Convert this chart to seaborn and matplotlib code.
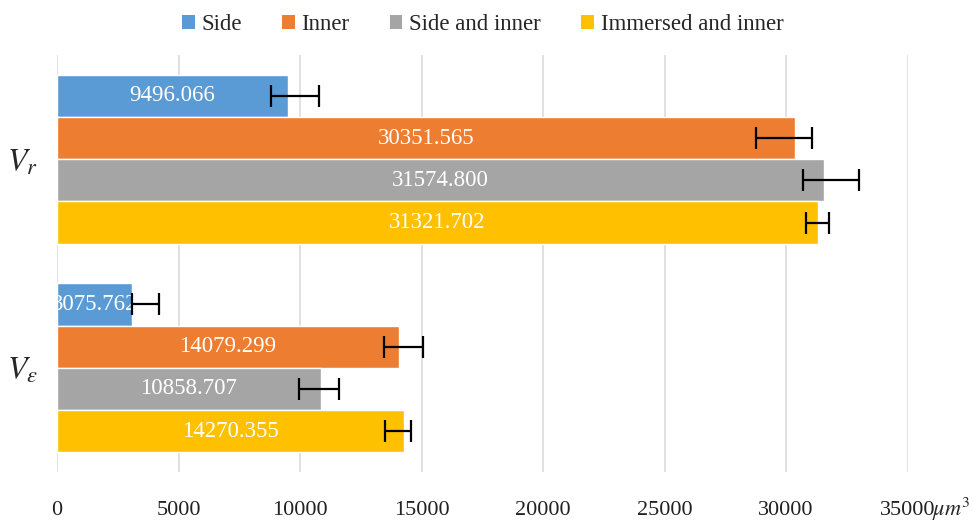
import numpy as np
import pandas as pd
import matplotlib
matplotlib.use("Agg")
import matplotlib.pyplot as plt
from matplotlib.patches import Patch
from matplotlib.container import BarContainer
import seaborn as sns

# Volumes (µm³) for the two measures and four treatment series
groups = ["$V_r$", r"$V_\varepsilon$"]
series = ["Side", "Inner", "Side and inner", "Immersed and inner"]
v_r = [9496.066, 30351.565, 31574.800, 31321.702]
v_eps = [3075.762, 14079.299, 10858.707, 14270.355]

# Error-bar extents (lower and upper bounds) for each series
v_r_low = [8807, 28778, 30712, 30806]
v_r_high = [10765, 31083, 32999, 31768]
v_eps_low = [3222, 13457, 9959, 13483]
v_eps_high = [4198, 15074, 11605, 14565]

x_ticks = [0, 5000, 10000, 15000, 20000, 25000, 30000, 35000]
colors = ["#5B9BD5", "#ED7D31", "#A5A5A5", "#FFC000"]

df = pd.DataFrame({
    "group": [groups[0]] * 4 + [groups[1]] * 4,
    "series": series * 2,
    "value": v_r + v_eps,
    "low": v_r_low + v_eps_low,
    "high": v_r_high + v_eps_high,
})

sns.set_theme(style="white")
plt.rcParams["font.family"] = ["Liberation Serif", "DejaVu Serif"]
plt.rcParams["mathtext.fontset"] = "stix"

fig = plt.figure(figsize=(9.73, 5.23), dpi=100)
ax = fig.add_axes([0.0586, 0.0975, 0.8741, 0.7973])

sns.barplot(data=df, y="group", x="value", hue="series", orient="h",
            order=groups, hue_order=series, palette=colors, saturation=1,
            width=0.81, errorbar=None, legend=False, ax=ax)

bar_containers = [c for c in ax.containers if isinstance(c, BarContainer)]

# Error bars and centred value labels on every bar
for name, cont in zip(series, bar_containers):
    sub = df[df["series"] == name].set_index("group").loc[groups]
    vals = sub["value"].to_numpy()
    lo = np.clip(vals - sub["low"].to_numpy(), 0, None)
    hi = np.clip(sub["high"].to_numpy() - vals, 0, None)
    ys = [b.get_y() + b.get_height() / 2 for b in cont]
    ax.errorbar(vals, ys, xerr=[lo, hi], fmt="none", ecolor="black",
                elinewidth=1.6, capsize=8, capthick=1.6, zorder=5)
    ax.bar_label(cont, labels=[f"{v:.3f}" for v in vals], label_type="center",
                 color="white", fontsize=16.5)

ax.set_xlim(0, 35000)
ax.set_ylim(1.5, -0.5)
ax.set_xticks(x_ticks)
ax.set_xticklabels([str(t) for t in x_ticks])
ax.xaxis.grid(True, color="#D9D9D9", linewidth=1.1)
ax.set_axisbelow(True)
for s in ax.spines.values():
    s.set_visible(False)
ax.tick_params(axis="x", length=0, pad=21, labelsize=16, labelcolor="#222222")
ax.tick_params(axis="y", length=0, pad=14, labelsize=23)
ax.set_xlabel("")
ax.set_ylabel("")

# Unit of the value axis, just right of the last tick label
fig.text(0.958, 7 / 523, r"$\mu m^3$", fontsize=16, ha="left",
         va="baseline")

handles = [Patch(facecolor=c, edgecolor="none") for c in colors]
fig.legend(handles, series, loc="upper center", bbox_to_anchor=(0.496, 1.012),
           ncol=4, frameon=False, fontsize=16.5, handlelength=0.55,
           handleheight=0.55, handletextpad=0.3, columnspacing=1.75)

fig.savefig("out.png", dpi=100)
